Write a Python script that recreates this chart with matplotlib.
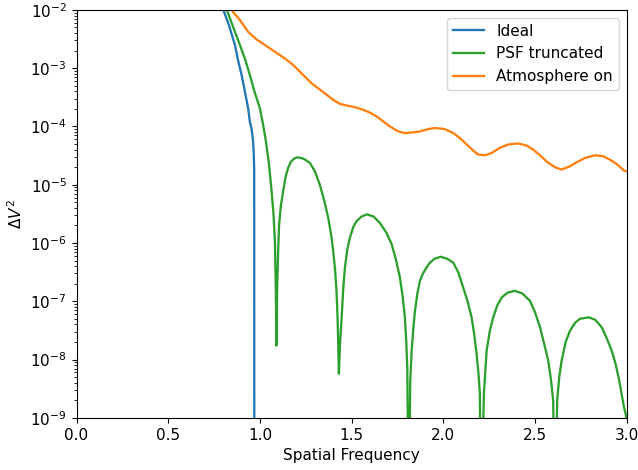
import matplotlib
matplotlib.use("Agg")
import matplotlib.pyplot as plt

plt.rcParams["font.size"] = 11
plt.rcParams["lines.linewidth"] = 1.65

# values (x = spatial frequency, y = delta V^2)
ideal_x = [0.78, 0.805, 0.83, 0.864, 0.88, 0.900, 0.918, 0.936, 0.945, 0.955,
           0.963, 0.967, 0.969, 0.970]
ideal_y = [1.5e-2, 9.2e-3, 5.6e-3, 2.5e-3, 1.4e-3, 7.7e-4, 4.0e-4, 2.06e-4, 1.22e-4, 9.0e-5,
           5.5e-5, 3.2e-5, 1.7e-5, 1e-12]

psf_x = [0.79, 0.824, 0.855, 0.891, 0.92, 0.945, 0.97, 1.000, 1.017, 1.033,
         1.05, 1.064, 1.074, 1.082, 1.087, 1.090,
         1.094, 1.100, 1.105, 1.115, 1.127, 1.140, 1.154, 1.17, 1.19, 1.209,
         1.23, 1.25, 1.273, 1.30, 1.327, 1.35, 1.373, 1.39, 1.400, 1.41,
         1.418, 1.424, 1.427, 1.431,
         1.437, 1.446, 1.455, 1.464, 1.477, 1.491, 1.51, 1.528, 1.555, 1.585,
         1.62, 1.655, 1.69, 1.719, 1.742, 1.764, 1.779, 1.791, 1.798, 1.804, 1.813,
         1.820, 1.828, 1.837, 1.846, 1.860, 1.873, 1.89, 1.909, 1.927, 1.955,
         1.986, 2.02, 2.055, 2.083, 2.109, 2.133, 2.155, 2.170, 2.182, 2.192,
         2.200, 2.206,
         2.222, 2.237, 2.255, 2.273, 2.295, 2.319, 2.35, 2.390, 2.43, 2.473,
         2.50, 2.528, 2.55, 2.573, 2.588, 2.600, 2.609,
         2.622, 2.633, 2.646, 2.668, 2.691, 2.72, 2.746, 2.795, 2.83, 2.864,
         2.89, 2.919, 2.94, 2.960, 2.986, 3.0]
psf_y = [1.7e-2, 9.2e-3, 5.0e-3, 2.5e-3, 1.4e-3, 7.7e-4, 4.0e-4, 2.06e-4, 1.1e-4, 5.5e-5,
         2.2e-5, 7.7e-6, 3.2e-6, 1.08e-6, 1.5e-7, 1.73e-8,
         1.5e-7, 8.0e-7, 2.1e-6, 4.5e-6, 7.7e-6, 1.35e-5, 1.94e-5, 2.5e-5, 2.85e-5, 2.95e-5,
         2.85e-5, 2.65e-5, 2.36e-5, 1.7e-5, 1.0e-5, 5.5e-6, 2.7e-6, 1.3e-6, 7.3e-7, 3.5e-7,
         1.5e-7, 5.0e-8, 2.1e-8, 5.7e-9,
         1.8e-8, 5.3e-8, 1.7e-7, 3.8e-7, 7.8e-7, 1.23e-6, 1.9e-6, 2.38e-6, 2.85e-6, 3.1e-6,
         2.85e-6, 2.2e-6, 1.5e-6, 9.5e-7, 5.2e-7, 2.55e-7, 1.2e-7, 5.3e-8, 2.2e-8, 7.4e-9, 1e-11,
         4.0e-9, 1.43e-8, 3.4e-8, 6.9e-8, 1.4e-7, 2.24e-7, 3.0e-7, 3.8e-7, 4.6e-7, 5.4e-7,
         5.8e-7, 5.4e-7, 4.6e-7, 3.1e-7, 1.72e-7, 1.0e-7, 5.3e-8, 2.6e-8, 1.25e-8, 6.0e-9,
         2.6e-9, 1e-11,
         2.6e-9, 1.43e-8, 3.2e-8, 5.3e-8, 8.5e-8, 1.16e-7, 1.4e-7, 1.51e-7, 1.37e-7, 1.02e-7,
         6.6e-8, 3.6e-8, 1.9e-8, 9.6e-9, 4.5e-9, 2.0e-9, 1e-11,
         2.0e-9, 5.0e-9, 9.6e-9, 2.0e-8, 3.1e-8, 4.3e-8, 5.0e-8, 5.3e-8, 4.8e-8, 3.6e-8,
         2.4e-8, 1.43e-8, 8.5e-9, 4.4e-9, 1.53e-9, 1.0e-9]

atm_x = [0.83, 0.854, 0.891, 0.936, 0.982, 1.027, 1.082, 1.136, 1.182, 1.228,
         1.282, 1.327, 1.364, 1.400, 1.436, 1.473, 1.518, 1.564, 1.600, 1.637,
         1.673, 1.709, 1.755, 1.791, 1.836, 1.873, 1.918, 1.955, 2.009, 2.055,
         2.091, 2.128, 2.164, 2.191, 2.228, 2.264, 2.309, 2.355, 2.409, 2.455,
         2.491, 2.528, 2.564, 2.609, 2.646, 2.691, 2.728, 2.773, 2.828, 2.873,
         2.909, 2.946, 2.986, 3.0]
atm_y = [1.3e-2, 9.2e-3, 6.7e-3, 4.2e-3, 3.1e-3, 2.5e-3, 1.91e-3, 1.47e-3, 1.13e-3, 8.1e-4,
         5.5e-4, 4.3e-4, 3.5e-4, 2.86e-4, 2.44e-4, 2.29e-4, 2.14e-4, 1.93e-4, 1.73e-4, 1.48e-4,
         1.22e-4, 1.0e-4, 8.2e-5, 7.7e-5, 7.9e-5, 8.2e-5, 9.0e-5, 9.4e-5, 9.0e-5, 7.7e-5,
         6.3e-5, 4.9e-5, 3.85e-5, 3.3e-5, 3.2e-5, 3.5e-5, 4.3e-5, 4.9e-5, 5.1e-5, 4.7e-5,
         4.0e-5, 3.2e-5, 2.5e-5, 2.0e-5, 1.82e-5, 2.07e-5, 2.43e-5, 2.87e-5, 3.2e-5, 3.07e-5,
         2.7e-5, 2.27e-5, 1.75e-5, 1.7e-5]

fig = plt.figure(figsize=(6.38, 4.70), dpi=100)
ax = fig.add_subplot(111)
fig.subplots_adjust(left=0.120, right=0.982, top=0.979, bottom=0.111)

ax.plot(ideal_x, ideal_y, color="C0", label="Ideal")
ax.plot(psf_x, psf_y, color="C2", label="PSF truncated")
ax.plot(atm_x, atm_y, color="C1", label="Atmosphere on")

ax.set_yscale("log")
ax.set_xlim(0, 3)
ax.set_ylim(1e-9, 1e-2)
ax.set_xlabel("Spatial Frequency")
ax.set_ylabel(r"$\Delta V^2$")
ax.legend(loc="upper right")

fig.savefig("out.png", dpi=100)
